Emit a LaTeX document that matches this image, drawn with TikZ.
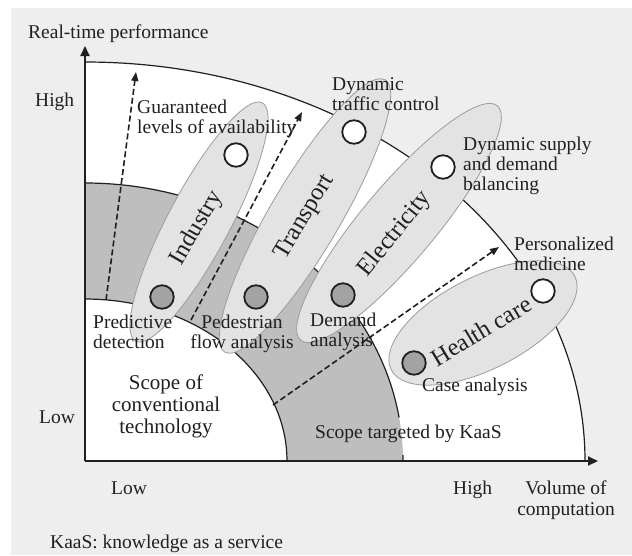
\documentclass[tikz,border=0pt]{standalone}
\usepackage{fontspec}
\setmainfont{Liberation Serif}
\usetikzlibrary{arrows.meta,shapes.geometric}

\definecolor{ink}{HTML}{231F20}
\definecolor{paper}{HTML}{EEEEEE}
\definecolor{band}{HTML}{BEBEBE}
\definecolor{blob}{HTML}{E3E3E3}
\definecolor{blobline}{HTML}{9C9C9C}
\definecolor{dotgray}{HTML}{A3A3A3}

\tikzset{
  txt/.style={font=\fontsize{19.5}{19.8}\selectfont, text=ink, inner sep=0pt},
  biglabel/.style={font=\fontsize{24.5}{26}\selectfont, text=ink, inner sep=0pt},
  arcline/.style={draw=ink, line width=1.2pt},
  axisline/.style={draw=ink, line width=2pt, -{Triangle[length=10pt,width=9pt]}},
  sector/.style={ellipse, draw=blobline, fill=blob, line width=0.8pt, inner sep=0pt},
  hidot/.style={circle, draw=ink, fill=white, line width=1.8pt, minimum size=23.5pt, inner sep=0pt},
  lodot/.style={circle, draw=ink, fill=dotgray, line width=1.8pt, minimum size=23.5pt, inner sep=0pt},
  trend/.style={draw=ink, line width=1.6pt, dash pattern=on 6pt off 3pt,
                -{Triangle[length=9pt,width=7pt]}}
}

\begin{document}
\begin{tikzpicture}[x=1pt,y=-1pt]
\useasboundingbox (0,0) rectangle (632,555);
\fill[paper] (11,8) rectangle (632,555);

\coordinate (O) at (85,461);

% outer quarter: white area up to the outer boundary
\fill[white] (O) -- (85,62) arc[start angle=90,end angle=0,x radius=500pt,y radius=399pt] -- cycle;

% band targeted by KaaS
\fill[band] (85,183) arc[start angle=90,end angle=0,x radius=318pt,y radius=278pt]
  -- (287,461) arc[start angle=0,end angle=90,x radius=202pt,y radius=162pt] -- cycle;

% boundaries
\draw[arcline] (85,62) arc[start angle=90,end angle=0,x radius=500pt,y radius=399pt];
\draw[arcline] (85,299) arc[start angle=90,end angle=0,x radius=202pt,y radius=162pt];
\draw[arcline] (85,183) arc[start angle=90,end angle=9,x radius=318pt,y radius=278pt];
\draw[arcline] (402.9,455.2) arc[start angle=1.2,end angle=0,x radius=318pt,y radius=278pt];

% axes
\coordinate (ytip) at (85,46);
\coordinate (xtip) at (598,461);
\draw[axisline] (O) -- (ytip);
\draw[axisline] (O) -- (xtip);

% application sectors
\node[sector, rotate=62, minimum width=270pt, minimum height=62pt] (industry) at (199,222) {};
\node[sector, rotate=59.5, minimum width=316pt, minimum height=70pt] (transport) at (305,216) {};
\node[sector, rotate=50, minimum width=306pt, minimum height=74pt] (electricity) at (399,223) {};
\node[sector, rotate=27, minimum width=206pt, minimum height=92pt] (health) at (483,323) {};

% use cases
\node[hidot] (ind-hi) at (236,155) {};
\node[hidot] (tra-hi) at (354,132) {};
\node[hidot] (ele-hi) at (443,167) {};
\node[hidot] (hea-hi) at (543,291) {};
\node[lodot] (ind-lo) at (162,297) {};
\node[lodot] (tra-lo) at (256,297) {};
\node[lodot] (ele-lo) at (343,295) {};
\node[lodot] (hea-lo) at (414,363) {};

% expansion directions
\coordinate (d1s) at (106,300);
\coordinate (d1e) at (136,72);
\coordinate (d2s) at (191,320);
\coordinate (d2e) at (302,112);
\coordinate (d3s) at (273,405);
\coordinate (d3e) at (499,247);
\draw[trend] (d1s) -- (d1e);
\draw[trend] (d2s) -- (d2e);
\draw[trend] (d3s) -- (d3e);

% sector names
\node[biglabel, rotate=60] (l-ind) at (197,228) {Industry};
\node[biglabel, rotate=59] (l-tra) at (305,217) {Transport};
\node[biglabel, rotate=51] (l-ele) at (395,234) {Electricity};
\node[biglabel, rotate=31] (l-hea) at (481,331) {Health care};

% axis texts (multi-line nodes are placed by the baseline of their last line)
\node[txt, anchor=base west] (yname) at (28,38) {Real-time performance};
\node[txt, anchor=base west] (yhigh) at (35,106) {High};
\node[txt, anchor=base west] (ylow) at (39,423) {Low};
\node[txt, anchor=base west] (xlow) at (111,494) {Low};
\node[txt, anchor=base west] (xhigh) at (453,494) {High};
\node[txt, anchor=base, align=center, font=\fontsize{19.5}{21}\selectfont] (xname) at (566,515) {Volume of\\computation};
\node[txt, anchor=base west] (note) at (50,548) {KaaS: knowledge as a service};

% region texts
\node[txt, anchor=base, align=center, font=\fontsize{21}{22}\selectfont] (conv) at (166,433)
  {Scope of\\conventional\\technology};
\node[txt, anchor=base west] (kaas) at (315,438) {Scope targeted by KaaS};

% use case texts
\node[txt, anchor=base west, align=left] (t-pred) at (93,348) {Predictive\\detection};
\node[txt, anchor=base, align=center] (t-ped) at (242,348) {Pedestrian\\flow analysis};
\node[txt, anchor=base west, align=left] (t-dem) at (310,346) {Demand\\analysis};
\node[txt, anchor=base west] (t-case) at (422,391) {Case analysis};
\node[txt, anchor=base west, align=left] (t-guar) at (137,133) {Guaranteed\\levels of availability};
\node[txt, anchor=base west, align=left] (t-dyn) at (332,110) {Dynamic\\traffic control};
\node[txt, anchor=base west, align=left] (t-sup) at (463,190) {Dynamic supply\\and demand\\balancing};
\node[txt, anchor=base west, align=left] (t-per) at (514,270) {Personalized\\medicine};
\end{tikzpicture}
\end{document}
